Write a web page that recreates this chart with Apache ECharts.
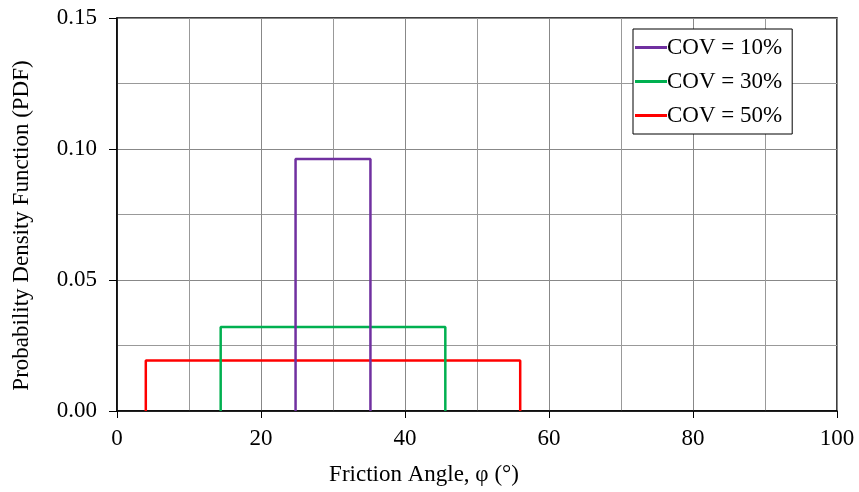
<!DOCTYPE html>
<html><head><meta charset="utf-8">
<script src="https://cdn.jsdelivr.net/npm/echarts@6/dist/echarts.min.js"></script>
<style>html,body{margin:0;padding:0;background:#fff}#c{width:859px;height:492px}</style>
</head><body><div id="c"></div>
<script>
const seriesNames = ['COV = 10%', 'COV = 30%', 'COV = 50%'];
const lowerBounds = [24.8, 14.4, 4.0];
const upperBounds = [35.2, 45.6, 56.0];
const densities = [0.0962, 0.0321, 0.0193];
const colors = ['#7030A0', '#00B050', '#FF0000'];
const xTicks = [0, 20, 40, 60, 80, 100];
const yTicks = [0.00, 0.05, 0.10, 0.15];

const font = 'Liberation Serif';
const series = seriesNames.map((n, i) => ({
  name: n, type: 'line', symbol: 'none',
  data: [[lowerBounds[i], 0], [lowerBounds[i], densities[i]], [upperBounds[i], densities[i]], [upperBounds[i], 0]],
  lineStyle: { color: colors[i], width: 2.5 }, itemStyle: { color: colors[i] }, z: 3 - i + 2
}));

const chart = echarts.init(document.getElementById('c'));
chart.setOption({
  animation: false,
  backgroundColor: '#fff',
  grid: { left: 117, right: 22, top: 18, bottom: 81, show: true, borderColor: '#000', borderWidth: 1.5 },
  legend: {
    data: seriesNames, orient: 'vertical', left: 633, top: 29,
    backgroundColor: '#fff', borderColor: '#000', borderWidth: 1,
    padding: [7, 10, 7, 2], itemGap: 11, itemWidth: 32, itemHeight: 3,
    icon: 'rect',
    textStyle: { fontFamily: font, fontSize: 23, color: '#000', padding: [0, 0, 0, -5] }
  },
  xAxis: {
    type: 'value', min: 0, max: 100, interval: 20,
    name: 'Friction Angle, φ (°)', nameLocation: 'middle', nameGap: 52,
    nameTextStyle: { fontFamily: font, fontSize: 23, color: '#000', padding: [0, 106, 0, 0] },
    axisLine: { show: true, lineStyle: { color: '#000', width: 1.5 } },
    axisTick: { show: true, inside: false, length: 7, lineStyle: { color: '#000' } },
    axisLabel: { fontFamily: font, fontSize: 23, color: '#000', margin: 16, formatter: v => xTicks.includes(v) ? String(v) : '' },
    splitLine: { show: true, lineStyle: { color: '#888', width: 1 } },
    minorTick: { show: false, splitNumber: 2 },
    minorSplitLine: { show: true, lineStyle: { color: '#999', width: 1 } }
  },
  yAxis: {
    type: 'value', min: 0, max: 0.15, interval: 0.05,
    name: 'Probability Density Function (PDF)', nameLocation: 'middle', nameGap: 84,
    nameTextStyle: { fontFamily: font, fontSize: 23, color: '#000', padding: [0, 22, 0, 0] },
    axisLine: { show: true, lineStyle: { color: '#000', width: 1.5 } },
    axisTick: { show: true, inside: false, length: 8, lineStyle: { color: '#000' } },
    axisLabel: { fontFamily: font, fontSize: 23, color: '#000', margin: 20, formatter: v => yTicks.some(t => Math.abs(t - v) < 1e-9) ? v.toFixed(2) : '' },
    splitLine: { show: true, lineStyle: { color: '#888', width: 1 } },
    minorTick: { show: false, splitNumber: 2 },
    minorSplitLine: { show: true, lineStyle: { color: '#999', width: 1 } }
  },
  series: series
});
</script></body></html>
